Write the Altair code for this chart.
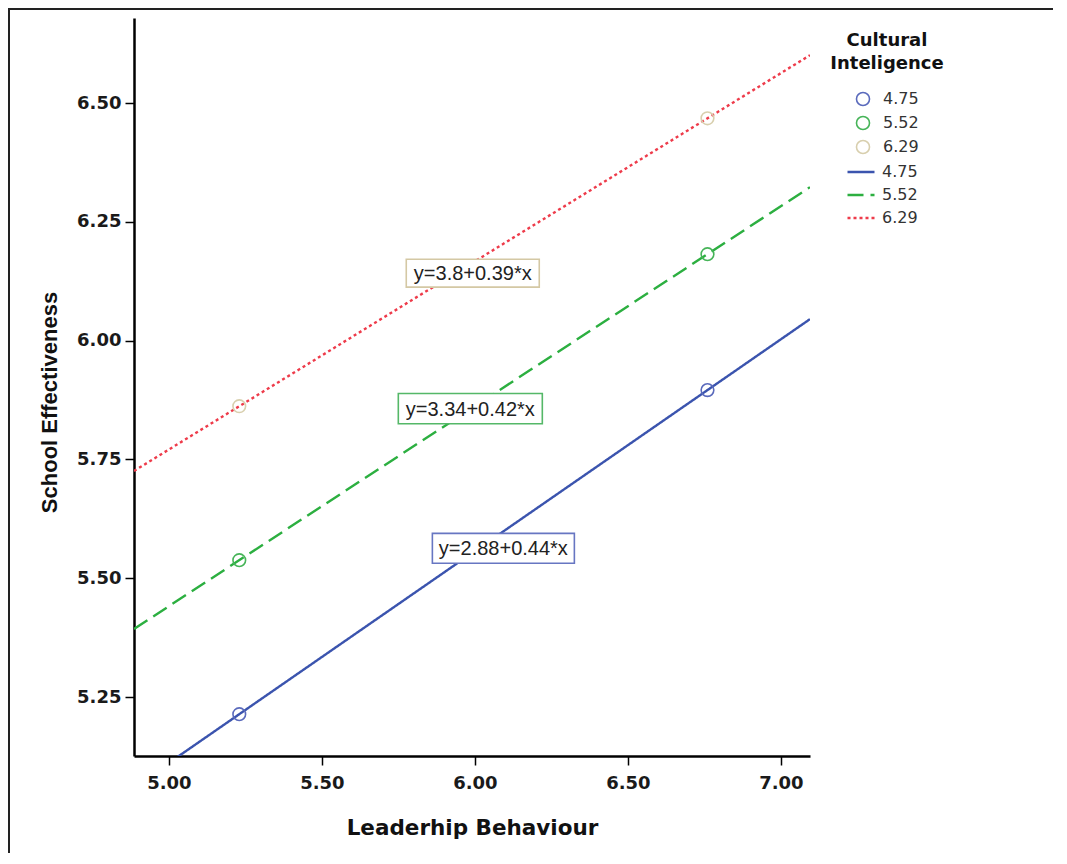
import altair as alt
import pandas as pd

# ---- data ----
groups = ["4.75", "5.52", "6.29"]              # Cultural Inteligence levels
leader_x = [5.23, 6.76]                          # Leaderhip Behaviour at the two markers
eff_low = [5.214, 5.896]                         # CI = 4.75
eff_mid = [5.538, 6.182]                         # CI = 5.52
eff_high = [5.862, 6.468]                        # CI = 6.29

eq_labels = ["y=2.88+0.44*x", "y=3.34+0.42*x", "y=3.8+0.39*x"]
eq_x = [6.093, 5.985, 5.993]
eq_y = [5.563, 5.857, 6.142]

x_domain = [4.886, 7.095]
y_domain = [5.126, 6.679]
x_ticks = [5.0, 5.5, 6.0, 6.5, 7.0]
y_ticks = [5.25, 5.5, 5.75, 6.0, 6.25, 6.5]

# ---- styles ----
point_colors = ["#5a6abc", "#46b458", "#d8cfae"]
line_colors = ["#3b54ae", "#2caf40", "#ee3b4a"]
dash_styles = [[1, 0], [16, 7], [3, 3]]
box_colors = ["#6776c2", "#55b868", "#d4c8a4"]
box_widths = [142, 144, 133]

rows = []
for g, ys in zip(groups, [eff_low, eff_mid, eff_high]):
    for xv, yv in zip(leader_x, ys):
        rows.append({"ci": g, "lb": xv, "se": yv})
df = pd.DataFrame(rows)
ann = pd.DataFrame({"label": eq_labels, "ax": eq_x, "ay": eq_y})

W, H = 676, 738

xscale = alt.Scale(domain=x_domain, nice=False, zero=False)
yscale = alt.Scale(domain=y_domain, nice=False, zero=False)

xaxis = alt.Axis(
    values=x_ticks, format=".2f", grid=False, labelFlush=False,
    domainColor="#000000", domainWidth=2.5, tickColor="#000000", tickWidth=1.5, tickSize=9,
    labelFont="DejaVu Sans", labelFontWeight="bold", labelFontSize=18, labelColor="#1a1a1a",
    labelPadding=9,
    title="Leaderhip Behaviour", titleFont="DejaVu Sans", titleFontWeight="bold",
    titleFontSize=21.5, titleColor="#111111", titleBaseline="alphabetic", titleY=78,
)
yaxis = alt.Axis(
    values=y_ticks, format=".2f", grid=False, labelFlush=False,
    domainColor="#000000", domainWidth=2.5, tickColor="#000000", tickWidth=1.5, tickSize=9,
    labelFont="DejaVu Sans", labelFontWeight="bold", labelFontSize=18, labelColor="#1a1a1a",
    labelPadding=4,
    title="School Effectiveness", titleFont="Liberation Sans", titleFontWeight="bold",
    titleFontSize=22, titleColor="#111111", titleBaseline="alphabetic", titleX=-78, titleY=384,
)

frame = alt.Chart(pd.DataFrame({"k": [0]})).mark_rect(
    fillOpacity=0, stroke="#222222", strokeWidth=2
).encode(x=alt.value(-125), x2=alt.value(1100), y=alt.value(-9), y2=alt.value(1000))

line_legend = alt.Legend(
    title=None, orient="none", legendX=712, legendY=139, padding=0,
    symbolType="stroke", symbolSize=729, symbolStrokeWidth=2.5,
    labelFont="DejaVu Sans", labelFontSize=16, labelColor="#333333", labelOffset=6,
    rowPadding=0,
)
lines = alt.Chart(df).transform_regression(
    "lb", "se", groupby=["ci"], extent=x_domain
).mark_line(clip=True, strokeWidth=2.4).encode(
    x=alt.X("lb:Q", scale=xscale, axis=xaxis),
    y=alt.Y("se:Q", scale=yscale, axis=yaxis),
    color=alt.Color("ci:N", scale=alt.Scale(domain=groups, range=line_colors), legend=line_legend),
    strokeDash=alt.StrokeDash("ci:N", scale=alt.Scale(domain=groups, range=dash_styles), legend=line_legend),
)

pts = alt.Chart(df).mark_point(filled=False, size=160, strokeWidth=1.6, opacity=1).encode(
    x=alt.X("lb:Q", scale=xscale, axis=xaxis),
    y=alt.Y("se:Q", scale=yscale, axis=yaxis),
    color=alt.Color(
        "ci:N", scale=alt.Scale(domain=groups, range=point_colors),
        legend=alt.Legend(
            title=["Cultural", "Inteligence"], orient="none", legendX=696, legendY=14, padding=0,
            titleFont="DejaVu Sans", titleFontSize=18, titleFontWeight="bold", titleColor="#111111",
            titleLineHeight=23, titleAnchor="middle", titleAlign="center", titlePadding=18,
            symbolType="circle", symbolSize=170, symbolStrokeWidth=1.6,
            labelFont="DejaVu Sans", labelFontSize=16, labelColor="#333333", labelOffset=12,
            rowPadding=4,
        ),
    ),
)

layers = [frame, lines, pts]
box_path = "M-1,-0.21L1,-0.21L1,0.21L-1,0.21Z"
for lab, col, bw in zip(eq_labels, box_colors, box_widths):
    layers.append(
        alt.Chart(ann).transform_filter(alt.datum.label == lab).mark_point(
            shape=box_path, size=bw * bw, fill="#ffffff", stroke=col, strokeWidth=1.6,
            opacity=1, fillOpacity=1, filled=True,
        ).encode(x=alt.X("ax:Q", scale=xscale), y=alt.Y("ay:Q", scale=yscale))
    )
texts = alt.Chart(ann).mark_text(
    font="Liberation Sans", fontSize=20, color="#222222", align="center", baseline="middle", dy=1
).encode(x=alt.X("ax:Q", scale=xscale), y=alt.Y("ay:Q", scale=yscale), text="label:N")
layers.append(texts)

chart = alt.layer(*layers).resolve_scale(
    color="independent", strokeDash="independent"
).resolve_legend(color="independent").properties(
    width=W, height=H,
    padding={"left": 126, "top": 10, "right": 243, "bottom": 97},
    autosize=alt.AutoSizeParams(type="none"),
).configure_view(stroke="transparent")

chart.save("out.html", embed_options={"renderer": "svg", "actions": False})
